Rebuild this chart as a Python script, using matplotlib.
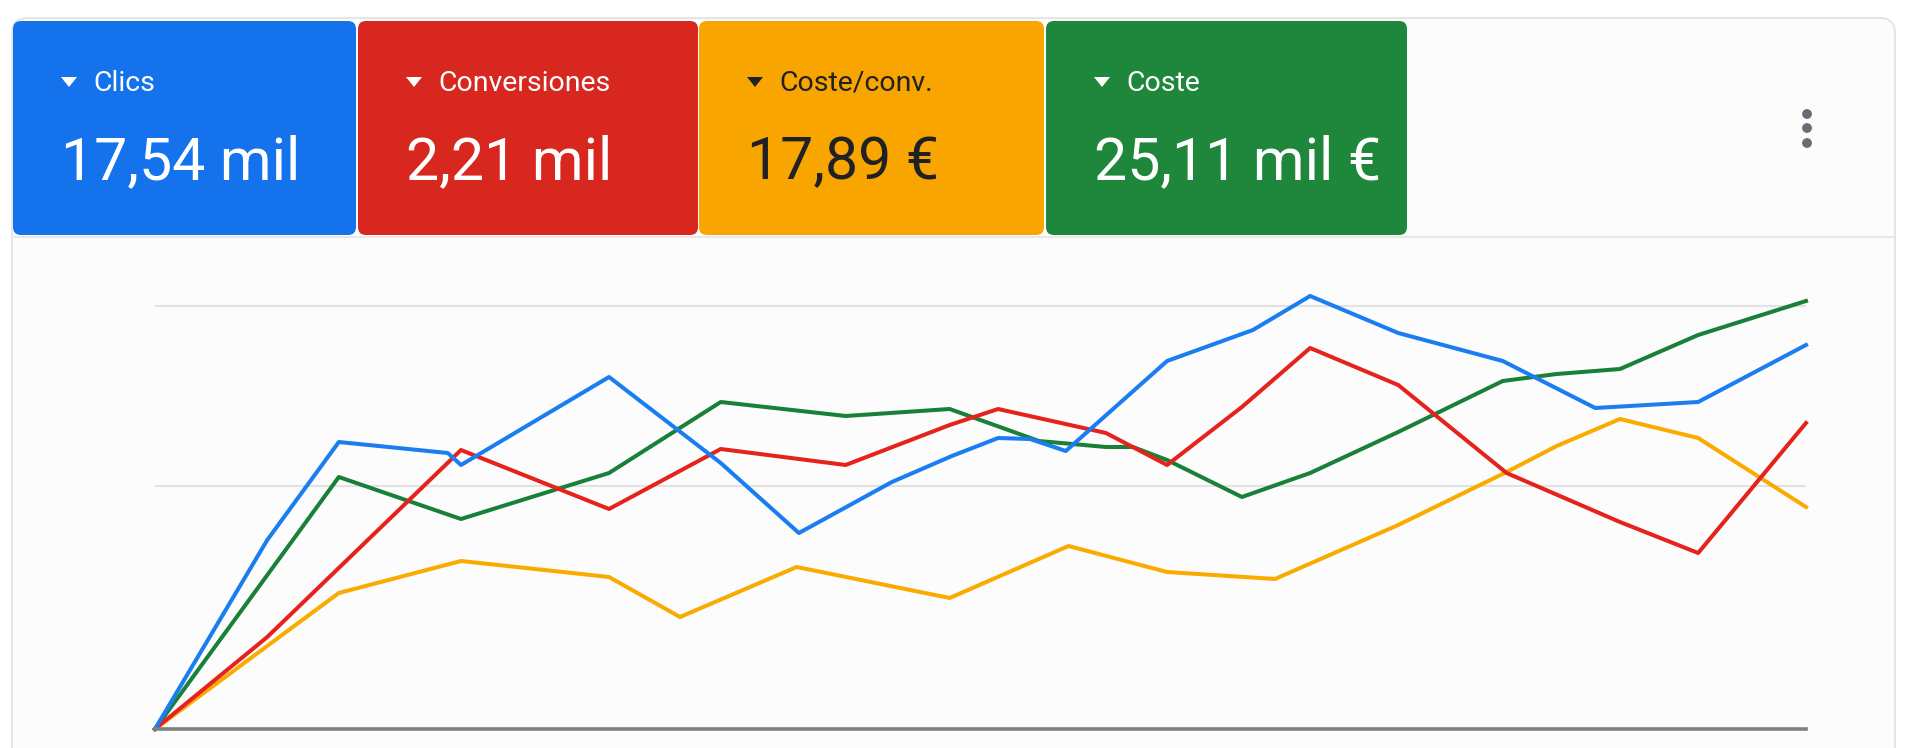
import matplotlib.pyplot as plt
from matplotlib.patches import FancyBboxPatch, Polygon, Circle

plt.rcParams['font.family'] = ['Roboto', 'DejaVu Sans']

# tarjetas de resumen
card_titles = ["Clics", "Conversiones", "Coste/conv.", "Coste"]
card_values = ["17,54 mil", "2,21 mil", "17,89 €", "25,11 mil €"]
card_colors = ["#1473ec", "#d7271f", "#f9a500", "#1e873c"]
card_text_colors = ["white", "white", "#202124", "white"]

# series del gráfico (x = día del periodo, y = valor normalizado)
clics_x = [0, 2.04, 3.34, 5.32, 5.56, 8.25, 10.28, 11.70, 13.39, 14.48, 15.32,
           15.90, 16.55, 18.39, 19.95, 20.99, 22.59, 24.49, 26.17, 28.04, 30]
clics_y = [0, 189, 287, 276, 264, 352, 266, 196, 247, 273, 291,
           290, 278, 368, 399, 433, 396, 368, 321, 327, 384]

conv_x = [0, 2.04, 5.56, 8.25, 10.28, 12.55, 14.44, 15.32, 17.28, 18.39,
          19.75, 20.99, 22.59, 24.56, 26.62, 28.04, 30]
conv_y = [0, 92, 279, 220, 280, 264, 304, 320, 296, 264,
          322, 381, 344, 256, 207, 176, 306]

coste_conv_x = [0, 3.34, 5.56, 8.25, 9.54, 11.66, 14.44, 16.60, 18.39, 20.35,
                22.59, 24.56, 25.47, 26.62, 28.04, 30]
coste_conv_y = [0, 136, 168, 152, 112, 162, 131, 183, 157, 150,
                204, 257, 283, 310, 291, 222]

coste_x = [0, 3.34, 5.56, 8.25, 10.28, 12.55, 14.44, 16.06, 17.28, 17.77,
           18.39, 19.75, 20.99, 22.59, 24.49, 25.47, 26.62, 28.04, 30]
coste_y = [0, 252, 210, 256, 327, 313, 320, 288, 282, 282,
           269, 232, 256, 297, 348, 355, 360, 394, 428]

grid_values = [243, 423]

W, H = 1912, 748
fig = plt.figure(figsize=(W / 100, H / 100), dpi=100)
fig.patch.set_facecolor("white")

# capa de fondo en coordenadas de píxel
bg = fig.add_axes([0, 0, 1, 1])
bg.set_xlim(0, W)
bg.set_ylim(H, 0)
bg.axis("off")

bg.add_patch(FancyBboxPatch((12, 18), 1883, 800, boxstyle="round,pad=0,rounding_size=15",
                            facecolor="#fcfcfc", edgecolor="#e2e2e2", linewidth=1.2))
bg.plot([12, 1895], [236.5, 236.5], color="#e4e4e4", lw=1.2)

lefts = [13, 358, 699, 1046]
rights = [356, 698, 1044, 1407]
for i in range(len(card_titles)):
    l, r = lefts[i], rights[i]
    bg.add_patch(FancyBboxPatch((l, 21), r - l, 214, boxstyle="round,pad=0,rounding_size=8",
                                facecolor=card_colors[i], edgecolor="none"))
    tc = card_text_colors[i]
    tx = l + 56
    bg.add_patch(Polygon([[tx - 8, 77], [tx + 8, 77], [tx, 87]], closed=True,
                         facecolor=tc, edgecolor="none"))
    bg.text(tx + 24, 83, card_titles[i], color=tc, fontsize=20.5,
            ha="left", va="center")
    bg.text(tx - 8, 163, card_values[i], color=tc, fontsize=42.5,
            ha="left", va="center")

# menú de tres puntos
for cy in [114, 128, 143]:
    bg.add_patch(Circle((1807, cy), 4.2, color="#696c72"))

# gráfico de líneas
ax = fig.add_axes([155 / W, 19 / H, (1806 - 155) / W, 480 / H])
ax.set_facecolor("none")
ax.set_xlim(0, 30)
ax.set_ylim(0, 480)
for s in ax.spines.values():
    s.set_visible(False)
ax.set_xticks([])
ax.set_yticks([])
for g in grid_values:
    ax.axhline(g, color="#e2e2e2", lw=1.5, zorder=1)
ax.axhline(0, color="#7f7f7f", lw=2.6, zorder=5, clip_on=False)

lw = 2.9
ax.plot(coste_conv_x, coste_conv_y, color="#f9ab00", lw=lw, clip_on=False, zorder=3)
ax.plot(coste_x, coste_y, color="#188038", lw=lw, clip_on=False, zorder=3)
ax.plot(conv_x, conv_y, color="#e5221c", lw=lw, clip_on=False, zorder=3)
ax.plot(clics_x, clics_y, color="#1a7df0", lw=lw, clip_on=False, zorder=3)

fig.savefig("out.png", dpi=100, facecolor=fig.get_facecolor())
